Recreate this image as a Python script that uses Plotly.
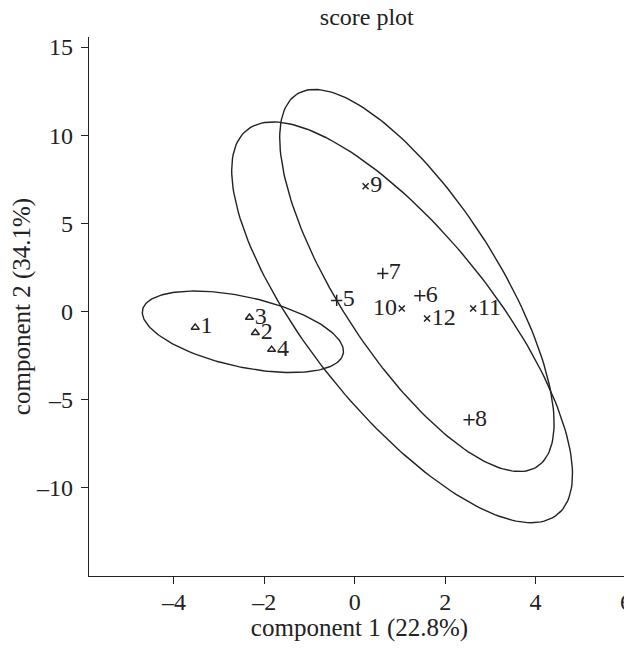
import numpy as np
import plotly.graph_objects as go

# score values, one group per marker type
labels_tri = ['1', '2', '3', '4']
pc1_tri = [-3.53, -2.20, -2.33, -1.84]
pc2_tri = [-0.90, -1.20, -0.34, -2.16]

labels_plus = ['5', '6', '7', '8']
pc1_plus = [-0.40, 1.44, 0.62, 2.53]
pc2_plus = [0.63, 0.90, 2.16, -6.14]

labels_cross = ['9', '10', '11', '12']
pc1_cross = [0.24, 1.04, 2.62, 1.60]
pc2_cross = [7.10, 0.17, 0.17, -0.40]

x_ticks = [-4, -2, 0, 2, 4, 6]
y_ticks = [-10, -5, 0, 5, 10, 15]

INK = '#222222'
FONT = 'Liberation Serif, Times New Roman, serif'


def conf_ellipse(xs, ys, k=3.035, n=200):
    # 99% normal confidence ellipse from the group covariance
    pts = np.vstack([xs, ys])
    mu = pts.mean(axis=1)
    cov = np.cov(pts)
    vals, vecs = np.linalg.eigh(cov)
    t = np.linspace(0, 2 * np.pi, n)
    circ = np.vstack([np.cos(t), np.sin(t)])
    ell = vecs @ (np.sqrt(vals)[:, None] * circ) * k + mu[:, None]
    return ell[0], ell[1]


fig = go.Figure()

for xs, ys in [(pc1_tri, pc2_tri), (pc1_plus, pc2_plus), (pc1_cross, pc2_cross)]:
    ex, ey = conf_ellipse(xs, ys)
    fig.add_trace(go.Scatter(x=ex, y=ey, mode='lines',
                             line=dict(color=INK, width=1.4),
                             hoverinfo='skip'))

groups = [
    (pc1_tri, pc2_tri, labels_tri, 'triangle-up-open', 7),
    (pc1_plus, pc2_plus, labels_plus, 'cross-thin-open', 8),
    (pc1_cross, pc2_cross, labels_cross, 'x-thin-open', 6),
]
for xs, ys, labs, sym, sz in groups:
    pos = ['middle left' if l == '10' else 'middle right' for l in labs]
    fig.add_trace(go.Scatter(
        x=xs, y=ys, mode='markers+text', text=labs, textposition=pos,
        marker=dict(symbol=sym, size=sz, color=INK,
                    line=dict(color=INK, width=1.5)),
        textfont=dict(family=FONT, size=24, color=INK),
        cliponaxis=False,
    ))

# the page body adds 8px, so the figure is 8px smaller than the window
fig.update_layout(
    width=624, height=634,
    margin=dict(l=81, r=2, t=29, b=66),
    paper_bgcolor='white', plot_bgcolor='white',
    showlegend=False,
    font=dict(family=FONT, size=24, color=INK),
    title=dict(text='score plot', x=0.575, xanchor='center', y=1.0,
               yanchor='top', pad=dict(t=0),
               font=dict(family=FONT, size=24, color=INK)),
    xaxis=dict(range=[-5.88, 6.09], tickvals=x_ticks,
               ticktext=[str(v).replace('-', '\u2013') for v in x_ticks],
               showgrid=False, zeroline=False, showline=True,
               linecolor=INK, linewidth=1.3, ticks='outside', ticklen=7,
               tickcolor=INK, tickwidth=1.3, automargin=False,
               ticklabeloverflow='allow', ticklabelstandoff=-3,
               title=dict(text='component 1 (22.8%)', standoff=17,
                          font=dict(family=FONT, size=25))),
    yaxis=dict(range=[-15.0, 15.57], tickvals=y_ticks,
               ticktext=[str(v).replace('-', '\u2013') for v in y_ticks],
               showgrid=False, zeroline=False, showline=True,
               linecolor=INK, linewidth=1.3, ticks='outside', ticklen=7,
               tickcolor=INK, tickwidth=1.3, automargin=False,
               ticklabeloverflow='allow', ticklabelstandoff=3,
               title=dict(text='component 2 (34.1%)', standoff=12,
                          font=dict(family=FONT, size=25))),
)

fig.write_html("out.html")
